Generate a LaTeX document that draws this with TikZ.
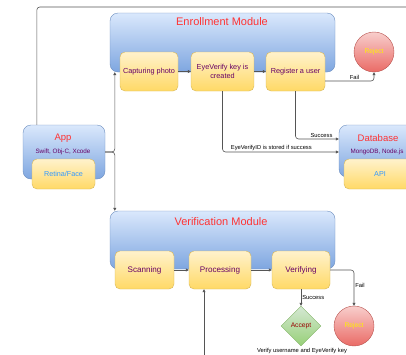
\documentclass[tikz,border=0pt]{standalone}
\usepackage{fontspec}
\setmainfont{Liberation Sans}
\usetikzlibrary{arrows.meta,shapes.geometric}

\definecolor{blueA}{HTML}{DAE8FC}
\definecolor{blueB}{HTML}{7EA6E0}
\definecolor{blueline}{HTML}{6C8EBF}
\definecolor{yelA}{HTML}{FFF2CC}
\definecolor{yelB}{HTML}{FFD966}
\definecolor{yelline}{HTML}{D6B656}
\definecolor{redA}{HTML}{F8CECC}
\definecolor{redB}{HTML}{EA6B66}
\definecolor{redline}{HTML}{B85450}
\definecolor{grnA}{HTML}{D5E8D4}
\definecolor{grnB}{HTML}{97D077}
\definecolor{grnline}{HTML}{82B366}
\definecolor{titlered}{HTML}{FF3333}
\definecolor{purp}{HTML}{660066}
\definecolor{apiblue}{HTML}{3399FF}
\definecolor{wire}{HTML}{555555}

\tikzset{
	modbox/.style={draw=blueline, rounded corners=8pt, top color=blueA, bottom color=blueB, inner sep=0pt},
	stepbox/.style={draw=yelline, rounded corners=5pt, top color=yelA, bottom color=yelB, inner sep=0pt, align=center, text=purp},
	rejectnode/.style={circle, draw=redline, top color=redA, bottom color=redB, minimum size=40pt, inner sep=0pt, text=yellow, font=\fontsize{6.7}{8}\selectfont},
	acceptnode/.style={diamond, draw=grnline, top color=grnA, bottom color=grnB, minimum width=40pt, minimum height=40pt, inner sep=0pt, text=red!60!black, font=\fontsize{6.7}{8}\selectfont},
	modtitle/.style={text=titlered, font=\fontsize{11}{13}\selectfont},
	subtitle/.style={text=titlered, font=\fontsize{9.5}{11}\selectfont},
	wirelabel/.style={font=\fontsize{5.8}{7}\selectfont, inner sep=1pt},
	link/.style={draw=wire, line width=0.6pt, rounded corners=3pt},
	arrow/.style={link, -{Triangle[length=3pt,width=3pt]}}
}

\begin{document}
\begin{tikzpicture}[x=1pt, y=-1pt]
		%%%%% START %%%%%
		\useasboundingbox (0,0) rectangle (406,354);
		
		% enrollment
		\node[modbox, minimum width=225pt, minimum height=59pt] (enroll) at (222.5,42.5) {};
		\node[modtitle] (enrollT) at (222,22) {Enrollment Module};
		\node[stepbox, minimum width=58pt, minimum height=39pt, font=\fontsize{7.3}{8.5}\selectfont] (cap) at (149,71.5) {Capturing photo};
		\node[stepbox, minimum width=63pt, minimum height=39pt, font=\fontsize{7.3}{8.5}\selectfont] (eye) at (222.5,71.5) {EyeVerify key is\\created};
		\node[stepbox, minimum width=59pt, minimum height=39pt, font=\fontsize{7.3}{8.5}\selectfont] (reg) at (295.5,71.5) {Register a user};
		\node[rejectnode] (rejtop) at (374,52) {Reject};
		
		% app
		\node[modbox, minimum width=82pt, minimum height=54pt] (app) at (64,152) {};
		\node[subtitle] (appT) at (63,138) {App};
		\node[text=purp, font=\fontsize{6.3}{7.5}\selectfont] (appS) at (63,152) {Swift, Obj-C, Xcode};
		\node[stepbox, minimum width=63pt, minimum height=30pt, text=apiblue, font=\fontsize{7.2}{8.5}\selectfont] (retina) at (63.5,174) {Retina/Face};
		
		% database
		\node[modbox, minimum width=82pt, minimum height=52pt] (db) at (380,151) {};
		\node[subtitle] (dbT) at (378,138) {Database};
		\node[text=purp, font=\fontsize{6.3}{7.5}\selectfont] (dbS) at (377,152) {MongoDB, Node.js};
		\node[stepbox, minimum width=72pt, minimum height=30pt, text=apiblue, font=\fontsize{7.2}{8.5}\selectfont] (api) at (380,174) {API};
		
		% verification
		\node[modbox, minimum width=225pt, minimum height=58pt] (verif) at (222.5,240) {};
		\node[modtitle] (verifT) at (221,222) {Verification Module};
		\node[stepbox, minimum width=59pt, minimum height=38pt, font=\fontsize{8.1}{9.5}\selectfont] (scan) at (144.5,270) {Scanning};
		\node[stepbox, minimum width=62pt, minimum height=38pt, font=\fontsize{8.1}{9.5}\selectfont] (proc) at (220,270) {Processing};
		\node[stepbox, minimum width=58pt, minimum height=38pt, font=\fontsize{8.1}{9.5}\selectfont] (verf) at (301,270) {Verifying};
		\node[acceptnode] (accept) at (301,326) {Accept};
		\node[rejectnode] (rejbot) at (354,326) {Reject};
		\node[wirelabel] (note) at (302,351) {Verify username and EyeVerify key};
		
		% wires
		\coordinate (outer) at (420,7);
		\coordinate (feed) at (204,360);
		\draw[link] ([xshift=14pt]app.north west) |- (outer);
		\draw[arrow] (app.east) -| ([xshift=5pt]enroll.south west);
		\draw[arrow] (app.east) -| ([xshift=5pt]verif.north west);
		
		\draw[arrow] (cap) -- (eye);
		\draw[arrow] (eye) -- (reg);
		\draw[arrow] ([yshift=-9.5pt]reg.east) -| node[wirelabel, pos=0.3, above] {Fail} (rejtop.south);
		\draw[arrow] (reg.south) |- node[wirelabel, pos=0.8, above] {Success} ([yshift=12pt]db.west);
		\draw[arrow] (eye.south) |- node[wirelabel, pos=0.71, above] {EyeVerifyID is stored if success} ([yshift=-1pt]db.west);
		
		\draw[arrow] (scan) -- (proc);
		\draw[arrow] (proc) -- (verf);
		\draw[arrow] (verf.south) -- node[wirelabel, right] {Success} (accept.north);
		\draw[arrow] (verf.east) -| node[wirelabel, pos=0.72, right] {Fail} (rejbot.north);
		\draw[arrow] (feed) -- ([xshift=-16pt]proc.south);
		%%%%% END %%%%%
\end{tikzpicture}
\end{document}
